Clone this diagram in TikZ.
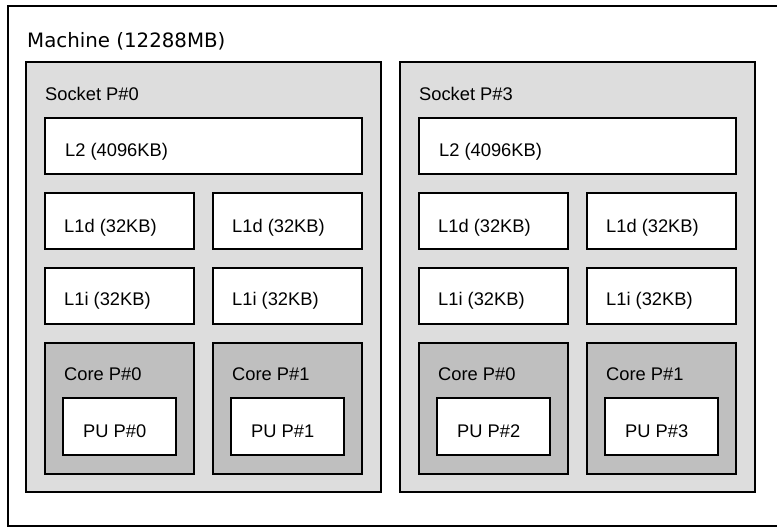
\documentclass[tikz,border=0pt]{standalone}
\usepackage{fontspec}
\setmainfont{Liberation Sans}
\newfontfamily\machfont{DejaVu Sans}
\usetikzlibrary{positioning}

\tikzset{
	hwbox/.style = {draw=black, line width=1.1pt, inner sep=0pt, outer sep=0pt, anchor=north west},
	machinebox/.style = {hwbox, fill=white},
	socketbox/.style = {hwbox, fill=gray!27, minimum width=355pt, minimum height=430pt},
	cachebox/.style = {hwbox, fill=white, minimum height=56pt},
	corebox/.style = {hwbox, fill=gray!50, minimum width=149pt, minimum height=131pt},
	pubox/.style = {hwbox, fill=white, minimum width=113pt, minimum height=57pt},
	lbl/.style = {anchor=base west, inner sep=0pt, font=\fontsize{18.3}{22}\selectfont}
}

\begin{document}
\begin{tikzpicture}[x=1pt, y=-1pt]
		\useasboundingbox (0,0) rectangle (777,527);
		\clip (0,0) rectangle (777,527);
		% machine
		\node (m) [machinebox, minimum width=800pt, minimum height=520pt] at (8,6) {};
		\node (mlbl) [lbl, font=\machfont\fontsize{19.8}{24}\selectfont] at (27,48) {Machine (12288MB)};
		% socket P#0
		\node (s0) [socketbox] at (26,62) {};
		\node (s0lbl) [lbl] at (45,101) {Socket P\#0};
		\node (s0l2) [cachebox, minimum width=317pt] at (45,118) {};
		\node (s0l2lbl) [lbl] at (65,156) {L2 (4096KB)};
		\node (s0l1da) [cachebox, minimum width=149pt] at (45,193) {};
		\node (s0l1dalbl) [lbl] at (64,232) {L1d (32KB)};
		\node (s0l1db) [cachebox, minimum width=149pt] at (213,193) {};
		\node (s0l1dblbl) [lbl] at (232,232) {L1d (32KB)};
		\node (s0l1ia) [cachebox, minimum width=149pt] at (45,268) {};
		\node (s0l1ialbl) [lbl] at (64,305) {L1i (32KB)};
		\node (s0l1ib) [cachebox, minimum width=149pt] at (213,268) {};
		\node (s0l1iblbl) [lbl] at (232,305) {L1i (32KB)};
		\node (s0c0) [corebox] at (45,343) {};
		\node (s0c0lbl) [lbl] at (64,380) {Core P\#0};
		\node (s0c1) [corebox] at (213,343) {};
		\node (s0c1lbl) [lbl] at (232,380) {Core P\#1};
		\node (pu0) [pubox] at (63,398) {};
		\node (pu0lbl) [lbl] at (83,437) {PU P\#0};
		\node (pu1) [pubox] at (231,398) {};
		\node (pu1lbl) [lbl] at (251,437) {PU P\#1};
		% socket P#3
		\node (s3) [socketbox] at (400,62) {};
		\node (s3lbl) [lbl] at (419,101) {Socket P\#3};
		\node (s3l2) [cachebox, minimum width=317pt] at (419,118) {};
		\node (s3l2lbl) [lbl] at (439,156) {L2 (4096KB)};
		\node (s3l1da) [cachebox, minimum width=149pt] at (419,193) {};
		\node (s3l1dalbl) [lbl] at (438,232) {L1d (32KB)};
		\node (s3l1db) [cachebox, minimum width=149pt] at (587,193) {};
		\node (s3l1dblbl) [lbl] at (606,232) {L1d (32KB)};
		\node (s3l1ia) [cachebox, minimum width=149pt] at (419,268) {};
		\node (s3l1ialbl) [lbl] at (438,305) {L1i (32KB)};
		\node (s3l1ib) [cachebox, minimum width=149pt] at (587,268) {};
		\node (s3l1iblbl) [lbl] at (606,305) {L1i (32KB)};
		\node (s3c0) [corebox] at (419,343) {};
		\node (s3c0lbl) [lbl] at (438,380) {Core P\#0};
		\node (s3c1) [corebox] at (587,343) {};
		\node (s3c1lbl) [lbl] at (606,380) {Core P\#1};
		\node (pu2) [pubox] at (437,398) {};
		\node (pu2lbl) [lbl] at (457,437) {PU P\#2};
		\node (pu3) [pubox] at (605,398) {};
		\node (pu3lbl) [lbl] at (625,437) {PU P\#3};
\end{tikzpicture}
\end{document}
